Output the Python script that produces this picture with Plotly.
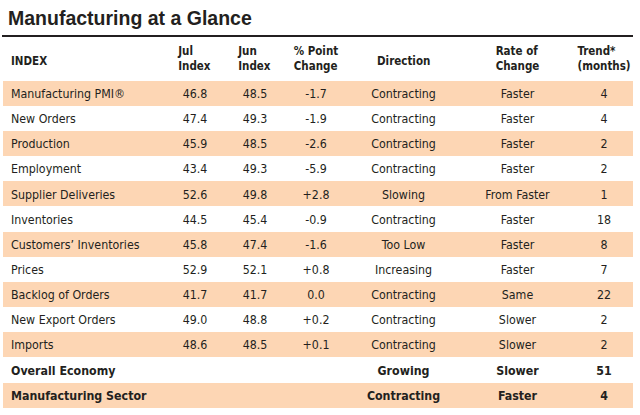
import plotly.graph_objects as go

title = "Manufacturing at a Glance"
headers = ["INDEX", "Jul<br>Index", "Jun<br>Index", "% Point<br>Change", "Direction", "Rate of<br>Change", "Trend*<br>(months)"]

index_names = ["Manufacturing PMI®", "New Orders", "Production", "Employment",
               "Supplier Deliveries", "Inventories", "Customers’ Inventories", "Prices",
               "Backlog of Orders", "New Export Orders", "Imports",
               "Overall\u00a0Economy", "Manufacturing\u00a0Sector"]
jul_index = ["46.8", "47.4", "45.9", "43.4", "52.6", "44.5", "45.8", "52.9", "41.7", "49.0", "48.6", "", ""]
jun_index = ["48.5", "49.3", "48.5", "49.3", "49.8", "45.4", "47.4", "52.1", "41.7", "48.8", "48.5", "", ""]
point_change = ["-1.7", "-1.9", "-2.6", "-5.9", "+2.8", "-0.9", "-1.6", "+0.8", "0.0", "+0.2", "+0.1", "", ""]
direction = ["Contracting", "Contracting", "Contracting", "Contracting", "Slowing", "Contracting",
             "Too Low", "Increasing", "Contracting", "Contracting", "Contracting",
             "Growing", "Contracting"]
rate_of_change = ["Faster", "Faster", "Faster", "Faster", "From Faster", "Faster", "Faster", "Faster",
                  "Same", "Slower", "Slower", "Slower", "Faster"]
trend_months = ["4", "4", "2", "2", "1", "18", "8", "7", "22", "2", "2", "51", "4"]
n_detail = 11  # rows before the two bold summary rows

W, H = 640, 415
ORANGE = "#FDD6B4"
TXT = "#231F20"
FONT = "DejaVu Sans Condensed, Liberation Sans Narrow, sans-serif"

columns = [index_names, jul_index, jun_index, point_change, direction, rate_of_change, trend_months]
n = len(index_names)
row_colors = [ORANGE if i % 2 == 0 else "white" for i in range(n)]

col_w = [162, 60, 60, 62, 113, 115, 58]
x0, x1 = 3, 633
y_top = 36
y_split = 357.5
ALIGN = ["left"] + ["center"] * 6
ROW_H = 25.1

hdr_vals = [("<b>%s</b>" % h) if "<br>" in h else "" for h in headers]

fig = go.Figure()
fig.add_trace(go.Table(
    domain=dict(x=[x0 / W, x1 / W], y=[1 - y_split / H, 1 - y_top / H]),
    columnwidth=col_w,
    header=dict(values=hdr_vals, fill_color="white", line_color="white", line_width=0,
                align=ALIGN, height=42,
                font=dict(family=FONT, size=11.5, color=TXT)),
    cells=dict(values=[c[:n_detail] for c in columns],
               fill_color=[row_colors[:n_detail]] * 7, line_color="rgba(0,0,0,0)", line_width=0,
               align=ALIGN, height=ROW_H,
               font=dict(family=FONT, size=12.3, color=TXT)),
))
# bold summary rows: first one drawn as the header row of a second table, second as its cell row
fig.add_trace(go.Table(
    domain=dict(x=[x0 / W, x1 / W], y=[0, 1 - y_split / H]),
    columnwidth=col_w,
    header=dict(values=[c[n_detail] for c in columns],
                fill_color=row_colors[n_detail], line_color="rgba(0,0,0,0)", line_width=0,
                align=ALIGN, height=ROW_H,
                font=dict(family=FONT, size=12.3, color=TXT, weight="bold")),
    cells=dict(values=[c[n_detail + 1:] for c in columns],
               fill_color=[row_colors[n_detail + 1:]] * 7, line_color="rgba(0,0,0,0)", line_width=0,
               align=ALIGN, height=ROW_H,
               font=dict(family=FONT, size=12.3, color=TXT, weight="bold")),
))

# single-line header labels (vertically centred in header row)
total = sum(col_w)
span = x1 - x0
for i, h in enumerate(headers):
    if "<br>" in h:
        continue
    left = x0 + span * sum(col_w[:i]) / total
    right = left + span * col_w[i] / total
    if i == 0:
        fig.add_annotation(x=(left + 6) / W, xanchor="left", y=1 - 61 / H, yanchor="middle",
                           xref="paper", yref="paper", text="<b>%s</b>" % h, showarrow=False,
                           font=dict(family=FONT, size=11.5, color=TXT))
    else:
        fig.add_annotation(x=(left + right) / 2 / W, xanchor="center", y=1 - 61 / H, yanchor="middle",
                           xref="paper", yref="paper", text="<b>%s</b>" % h, showarrow=False,
                           font=dict(family=FONT, size=11.5, color=TXT))

fig.add_annotation(x=6 / W, xanchor="left", y=1 - 18 / H, yanchor="middle", xref="paper", yref="paper",
                   text="<b>%s</b>" % title, showarrow=False,
                   font=dict(family="Liberation Sans, Arial, sans-serif", size=19.5, color=TXT))
fig.add_shape(type="line", xref="paper", yref="paper", x0=2 / W, x1=633 / W, y0=1 - 36 / H, y1=1 - 36 / H,
              line=dict(color=TXT, width=2))

fig.update_layout(width=W, height=H, margin=dict(l=0, r=0, t=0, b=0),
                  paper_bgcolor="white", plot_bgcolor="white")
fig.write_html("out.html", config={"displayModeBar": False},
               post_script="document.body.style.margin='0';document.body.style.overflow='hidden';")
